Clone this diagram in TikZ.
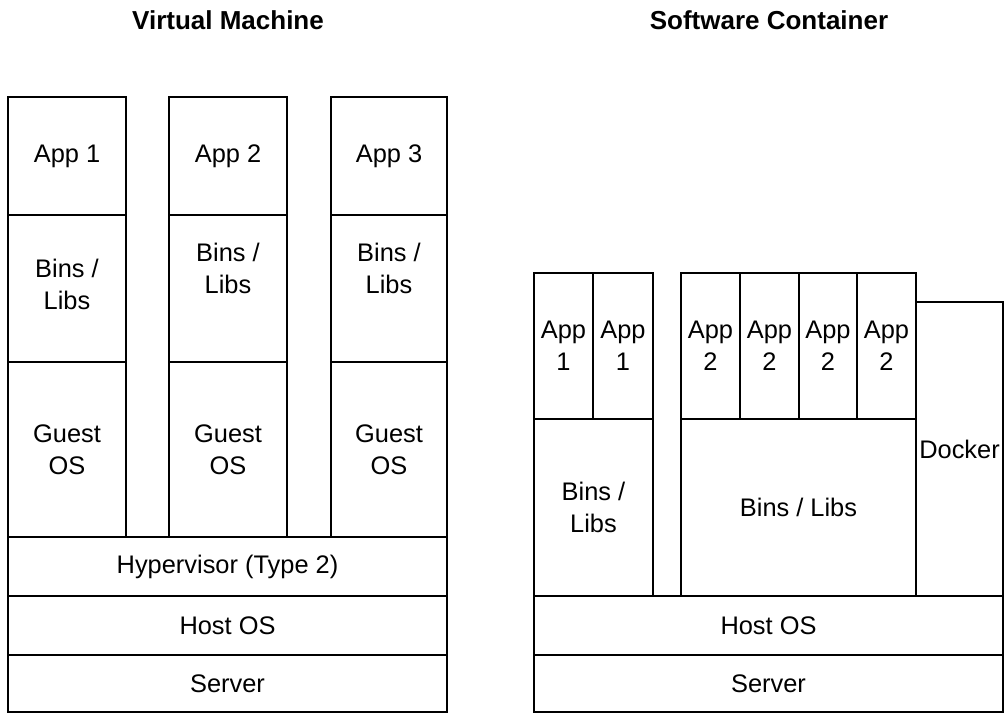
\documentclass[tikz,border=0pt]{standalone}
\usepackage{fontspec}
\setmainfont{Liberation Sans}
\usetikzlibrary{fit}

\tikzset{
  txt/.style={align=center, font=\fontsize{12.7}{16}\selectfont},
  layer/.style={draw, line width=1.2pt, inner sep=0pt},
  tag/.style={label={[txt]center:#1}},
  heading/.style={font=\fontsize{13}{16}\selectfont\bfseries},
}

\begin{document}
\begin{tikzpicture}[x=0.5pt,y=-0.5pt]
  \useasboundingbox (0,0) rectangle (1005,713);

  % virtual machine
  \node[heading] (vmtitle) at (228,20) {Virtual Machine};

  \foreach \n/\xa/\xb/\s in {1/8/126/2,2/169/287/10,3/331/447/10}{
    \node[layer, fit={(\xa,97) (\xb,215)}, tag={App \n}] (app\n) {};
    \node[layer, fit={(\xa,215) (\xb,362)},
      label={[txt, yshift=\s pt]center:Bins /\\ Libs}] (bins\n) {};
    \node[layer, fit={(\xa,362) (\xb,537)}, tag={Guest\\ OS}] (guest\n) {};
  }

  \node[layer, fit={(8,537) (447,596)}, tag={Hypervisor (Type 2)}] (hyper) {};
  \node[layer, fit={(8,596) (447,655)}, tag={Host OS}] (hostvm) {};
  \node[layer, fit={(8,655) (447,712)}, tag={Server}] (servervm) {};

  % software container
  \node[heading] (cttitle) at (769,20) {Software Container};

  \foreach \n/\xa/\xb in {a/534/593,b/593/653}{
    \node[layer, fit={(\xa,273) (\xb,419)}, tag={App\\ 1}] (appone\n) {};
  }
  \foreach \n/\xa/\xb in {a/681/740,b/740/799,c/799/857,d/857/916}{
    \node[layer, fit={(\xa,273) (\xb,419)}, tag={App\\ 2}] (apptwo\n) {};
  }

  \node[layer, fit={(534,419) (653,596)}, tag={Bins /\\ Libs}] (binsone) {};
  \node[layer, fit={(681,419) (916,596)}, tag={Bins / Libs}] (binstwo) {};
  \node[layer, fit={(916,302) (1003,596)}, tag={Docker}] (docker) {};

  \node[layer, fit={(534,596) (1003,655)}, tag={Host OS}] (hostct) {};
  \node[layer, fit={(534,655) (1003,712)}, tag={Server}] (serverct) {};
\end{tikzpicture}
\end{document}
